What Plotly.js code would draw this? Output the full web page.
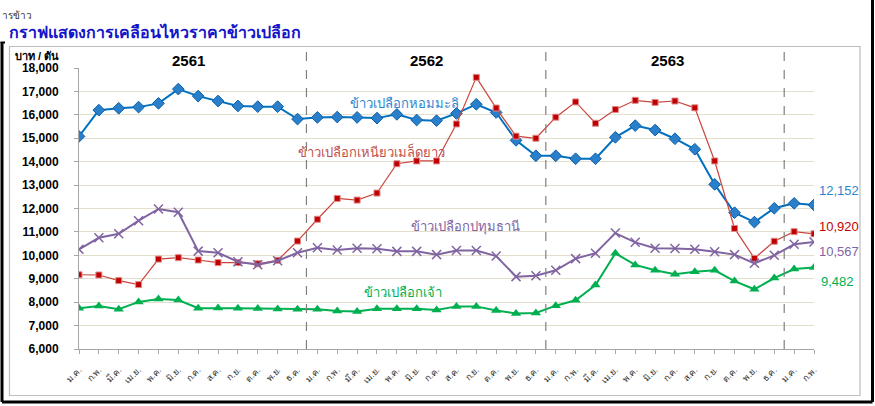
<!DOCTYPE html>
<html>
<head>
<meta charset="utf-8">
<script src="https://cdn.plot.ly/plotly-3.0.1.min.js"></script>
<style>
html,body{margin:0;padding:0;background:#fff;}
#chart{width:875px;height:406px;}
</style>
</head>
<body>
<div id="chart"></div>
<script>
// ---- data ----
const months = ['ม.ค.','ก.พ.','มี.ค.','เม.ย.','พ.ค.','มิ.ย.','ก.ค.','ส.ค.','ก.ย.','ต.ค.','พ.ย.','ธ.ค.',
                'ม.ค.','ก.พ.','มี.ค.','เม.ย.','พ.ค.','มิ.ย.','ก.ค.','ส.ค.','ก.ย.','ต.ค.','พ.ย.','ธ.ค.',
                'ม.ค.','ก.พ.','มี.ค.','เม.ย.','พ.ค.','มิ.ย.','ก.ค.','ส.ค.','ก.ย.','ต.ค.','พ.ย.','ธ.ค.',
                'ม.ค.','ก.พ.'];
const years = ['2561','2562','2563','2564'];

const hommali = [15080,16200,16280,16330,16490,17100,16800,16590,16380,16350,16350,15820,
                 15890,15905,15890,15860,16020,15780,15750,16060,16450,16100,14910,14250,
                 14250,14125,14125,15040,15540,15350,14980,14530,13030,11820,11420,12010,
                 12220,12152];
const niao = [9170,9160,8920,8750,9840,9900,9800,9690,9690,9640,9790,10610,
              11540,12430,12360,12660,13910,14030,14030,15610,17600,16290,15090,15000,
              15900,16550,15640,16230,16620,16530,16590,16300,14030,11150,9870,10600,
              11010,10920];
const pathum = [10257,10750,10920,11480,11980,11840,10180,10110,9730,9600,9770,10110,
                10325,10230,10300,10280,10170,10170,10030,10210,10210,9970,9090,9130,
                9360,9860,10090,10950,10555,10300,10290,10257,10150,10030,9660,10000,
                10470,10567];
const jao = [7740,7840,7695,8010,8135,8090,7740,7750,7735,7730,7710,7700,
             7700,7620,7600,7720,7720,7720,7665,7820,7820,7640,7520,7540,
             7850,8080,8730,10085,9590,9360,9190,9300,9360,8900,8550,9030,
             9415,9482];

const seriesNames = ['ข้าวเปลือกหอมมะลิ','ข้าวเปลือกเหนียวเมล็ดยาว','ข้าวเปลือกปทุมธานี','ข้าวเปลือกเจ้า'];
const yTicks = [6000,7000,8000,9000,10000,11000,12000,13000,14000,15000,16000,17000,18000];

// ---- drawing ----
const idx = months.map((_, i) => i);
const FONT = 'Tahoma, "Liberation Sans", Arial, sans-serif';
const NUMFONT = '"Liberation Sans", Arial, sans-serif';

const traces = [
  {x: idx, y: hommali, type:'scatter', mode:'lines+markers', name: seriesNames[0],
   line:{color:'#0070C0', width:2},
   marker:{symbol:'diamond', size:9, color:'#2A7FCB', line:{color:'#0A5FA8', width:1}}},
  {x: idx, y: niao, type:'scatter', mode:'lines+markers', name: seriesNames[1],
   line:{color:'#C8463E', width:1.2},
   marker:{symbol:'square', size:6, color:'#C00000', line:{color:'#E08A8A', width:1}}},
  {x: idx, y: pathum, type:'scatter', mode:'lines+markers', name: seriesNames[2],
   line:{color:'#8064A2', width:2},
   marker:{symbol:'x-thin-open', size:9, color:'#8064A2', line:{color:'#8064A2', width:1.5}}},
  {x: idx, y: jao, type:'scatter', mode:'lines+markers', name: seriesNames[3],
   line:{color:'#00B050', width:2},
   marker:{symbol:'triangle-up', size:9, color:'#00B050'}}
];

// pixel -> paper helpers for decoration (plot area: x 79..814, y 68..349)
const L = 79, R = 814, T = 68, B = 349;
const px = v => (v - L) / (R - L);
const py = v => (B - v) / (B - T);

const last = a => a[a.length - 1];
const fmt = v => v.toLocaleString('en-US');

const shapes = [
  {type:'rect', xref:'paper', yref:'paper', x0:px(9.5), x1:px(860), y0:py(395.5), y1:py(46.5),
   line:{color:'#BDBDBD', width:1.2}, layer:'below'},
  {type:'line', xref:'paper', yref:'paper', x0:px(2), x1:px(2), y0:py(42), y1:py(402), line:{color:'#000', width:3}},
  {type:'line', xref:'paper', yref:'paper', x0:px(0.5), x1:px(5), y0:py(42.5), y1:py(42.5), line:{color:'#000', width:2}},
  {type:'line', xref:'paper', yref:'paper', x0:px(2), x1:px(872.5), y0:py(402), y1:py(402), line:{color:'#000', width:3}},
  {type:'line', xref:'paper', yref:'paper', x0:px(872.5), x1:px(872.5), y0:py(0), y1:py(402), line:{color:'#000', width:3}}
];
[11.45, 23.5, 35.5].forEach(xv => shapes.push(
  {type:'line', xref:'x', yref:'paper', x0:xv, x1:xv, y0:0, y1:py(49),
   line:{color:'#808080', width:1.2, dash:'dash'}}));

function ann(xref, x, ypx, text, font, xanchor) {
  return {xref:xref, yref:'paper', x:x, y:py(ypx), xanchor:xanchor || 'center', yanchor:'middle',
          showarrow:false, text:text, font:font};
}

const annotations = [
  ann('paper', px(0), 15, 'ารข้าว', {family:FONT, size:10, color:'#333'}, 'left'),
  ann('paper', px(7), 32, '<b>กราฟแสดงการเคลือนไหวราคาข้าวเปลือก</b>', {family:FONT, size:16, color:'#1414C8'}, 'left'),
  ann('paper', px(37), 56, '<b>บาท / ตัน</b>', {family:FONT, size:11, color:'#000'}),
  ann('x', 5.5, 60, '<b>'+years[0]+'</b>', {family:NUMFONT, size:15, color:'#000'}),
  ann('x', 17.5, 60, '<b>'+years[1]+'</b>', {family:NUMFONT, size:15, color:'#000'}),
  ann('x', 29.6, 60, '<b>'+years[2]+'</b>', {family:NUMFONT, size:15, color:'#000'}),
  ann('x', 37.45, 60, '<b>'+years[3]+'</b>', {family:NUMFONT, size:15, color:'#000'}),
  ann('x', 16.4, 103, seriesNames[0], {family:FONT, size:13, color:'#2E86D0'}),
  ann('x', 14.7, 151, seriesNames[1], {family:FONT, size:13, color:'#C0504D'}),
  ann('x', 19.45, 227, seriesNames[2], {family:FONT, size:13, color:'#8064A2'}),
  ann('x', 16.3, 292, seriesNames[3], {family:FONT, size:13, color:'#00B050'}),
  ann('paper', px(817), 190, fmt(last(hommali)), {family:NUMFONT, size:13, color:'#2E86D0'}, 'left'),
  ann('paper', px(817), 226, fmt(last(niao)), {family:NUMFONT, size:13, color:'#C00000'}, 'left'),
  ann('paper', px(817), 251, fmt(last(pathum)), {family:NUMFONT, size:13, color:'#8064A2'}, 'left'),
  ann('paper', px(819), 281, fmt(last(jao)), {family:NUMFONT, size:13, color:'#00B050'}, 'left')
];

const layout = {
  width:875, height:406,
  margin:{l:L, r:875-R, t:T, b:406-B, pad:0},
  paper_bgcolor:'#fff', plot_bgcolor:'#fff',
  showlegend:false,
  hovermode:false,
  xaxis:{range:[0, months.length-1], tickmode:'array', tickvals:idx, ticktext:months,
         tickangle:-45, tickfont:{family:FONT, size:9, color:'#333'},
         showgrid:false, zeroline:false, showline:true, linecolor:'#A6A6A6', linewidth:1,
         ticks:'outside', ticklen:4, tickcolor:'#A6A6A6', ticklabelstandoff:7, fixedrange:true},
  yaxis:{range:[6000,18000], tickmode:'array', tickvals:yTicks,
         ticktext:yTicks.map(v => '<b>'+fmt(v)+'</b>'),
         tickfont:{family:NUMFONT, size:12, color:'#000'},
         showgrid:true, gridcolor:'#E4DFCC', gridwidth:1, zeroline:false,
         showline:true, linecolor:'#A6A6A6', linewidth:1,
         ticks:'outside', ticklen:4, tickcolor:'#A6A6A6', ticklabelstandoff:13, fixedrange:true},
  shapes: shapes,
  annotations: annotations
};

Plotly.newPlot('chart', traces, layout, {displayModeBar:false, staticPlot:true});
</script>
</body>
</html>
